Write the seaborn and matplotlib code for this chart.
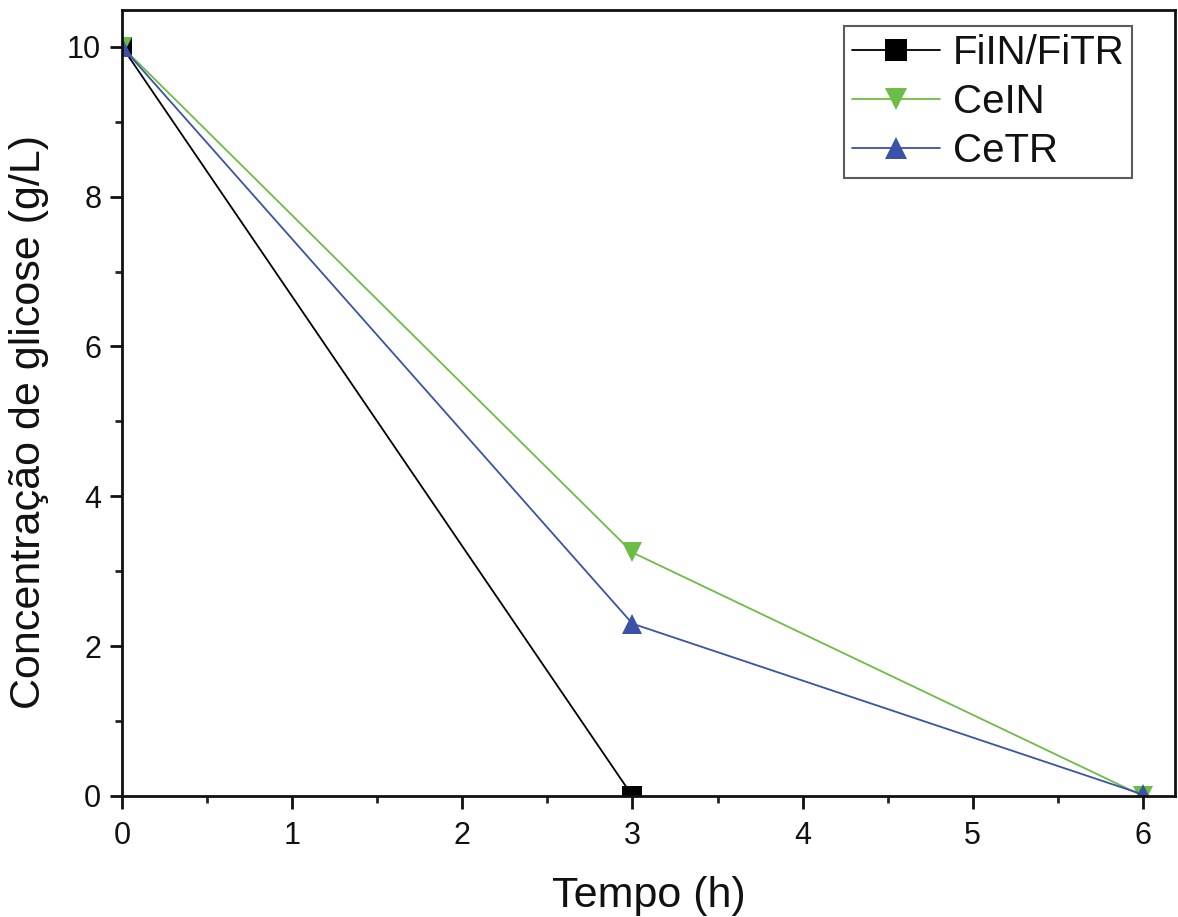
import matplotlib
matplotlib.use("Agg")
import matplotlib.pyplot as plt
import seaborn as sns
import pandas as pd
from matplotlib.ticker import MultipleLocator, AutoMinorLocator

tempo = [0, 3, 6]
series_names = ["FiIN/FiTR", "CeIN", "CeTR"]
fi_vals = [10, 0]
fi_tempo = [0, 3]
cein_vals = [10, 3.25, 0]
cetr_vals = [10, 2.3, 0.02]

rows = []
for t, v in zip(fi_tempo, fi_vals):
    rows.append(("FiIN/FiTR", t, v))
for t, v in zip(tempo, cein_vals):
    rows.append(("CeIN", t, v))
for t, v in zip(tempo, cetr_vals):
    rows.append(("CeTR", t, v))
df = pd.DataFrame(rows, columns=["serie", "tempo", "conc"])

sns.set_theme(style="ticks")
plt.rcParams['font.family'] = ['Liberation Sans', 'DejaVu Sans']

fig = plt.figure(figsize=(11.78, 9.17), dpi=100)
ax = fig.add_axes([0.1036, 0.132, 0.894, 0.857])

palette = {"FiIN/FiTR": "#000000", "CeIN": "#6cbd45", "CeTR": "#3a52a8"}
markers = {"FiIN/FiTR": "s", "CeIN": "v", "CeTR": "^"}
sns.lineplot(data=df, x="tempo", y="conc", hue="serie", style="serie",
             hue_order=series_names, style_order=series_names,
             palette=palette, markers=markers, dashes=False,
             markersize=14, linewidth=1.3, markeredgewidth=0, ax=ax)

ax.set_xlim(0, 6.19)
ax.set_ylim(0, 10.49)
ax.xaxis.set_major_locator(MultipleLocator(1))
ax.xaxis.set_minor_locator(AutoMinorLocator(2))
ax.yaxis.set_major_locator(MultipleLocator(2))
ax.yaxis.set_minor_locator(AutoMinorLocator(2))
ax.tick_params(which="major", direction="out", length=9, width=2, labelsize=22, colors="#111111")
ax.tick_params(axis="x", which="major", pad=9)
ax.tick_params(axis="y", which="major", pad=6)
ax.tick_params(which="minor", direction="out", length=5, width=2)
for s in ax.spines.values():
    s.set_linewidth(2)
    s.set_color("#111111")

ax.set_xlabel("Tempo (h)", fontsize=31, labelpad=18, color="#111111")
ax.set_ylabel("Concentração de glicose (g/L)", fontsize=31, color="#111111")
ax.yaxis.set_label_coords(-0.069, 0.476)

leg = ax.legend(title=None, loc="upper right", fontsize=29, frameon=True, fancybox=False,
                edgecolor="#333333", borderpad=0.2, handlelength=2.2, handletextpad=0.3,
                labelspacing=0.27, borderaxespad=0.2, bbox_to_anchor=(0.967, 0.99),
                markerscale=1.1)
leg.get_frame().set_linewidth(1.5)
for t in leg.get_texts():
    t.set_color("#111111")

fig.savefig("out.png", dpi=100)
